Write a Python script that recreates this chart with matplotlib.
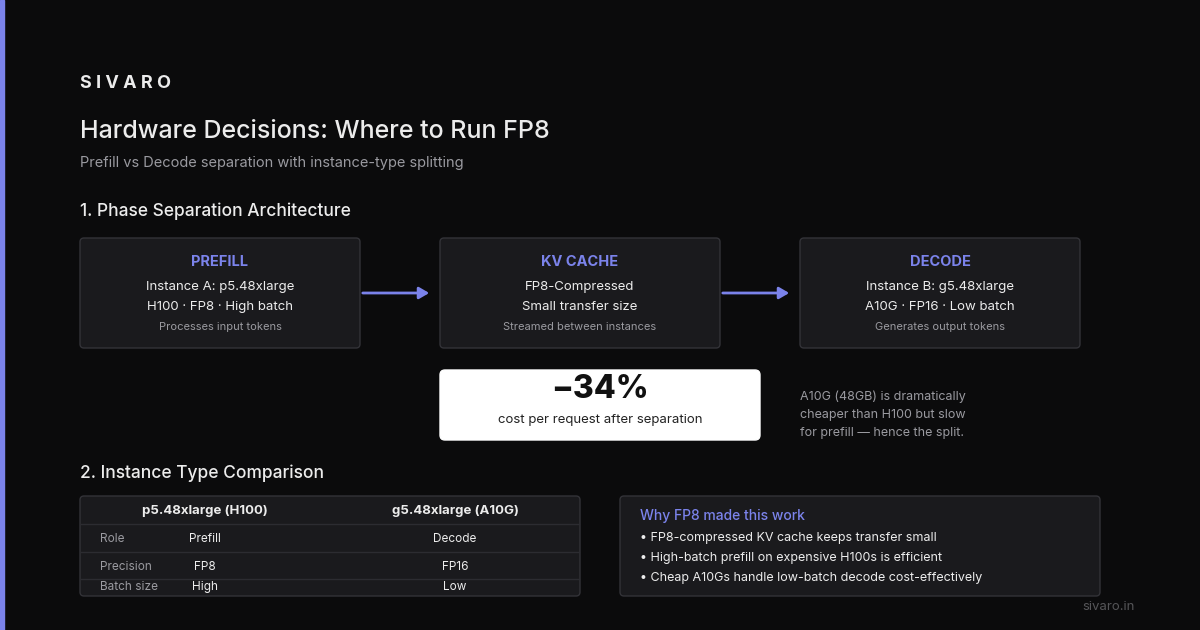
import matplotlib.pyplot as plt
from matplotlib.patches import FancyBboxPatch, Rectangle

BG = "#0b0b0c"
CARD = "#1a1a1d"
EDGE = "#333338"
ACCENT = "#7b83eb"
TEXT = "#ececec"
MUTED = "#9a9aa0"

plt.rcParams["font.family"] = ["Inter", "DejaVu Sans"]

# ---- data ----
phase_titles = ["PREFILL", "KV CACHE", "DECODE"]
phase_line1 = ["Instance A: p5.48xlarge", "FP8-Compressed", "Instance B: g5.48xlarge"]
phase_line2 = ["H100 · FP8 · High batch", "Small transfer size", "A10G · FP16 · Low batch"]
phase_notes = ["Processes input tokens", "Streamed between instances", "Generates output tokens"]
phase_x = [80, 440, 800]

headline_value = "−34%"
headline_label = "cost per request after separation"
side_note = ["A10G (48GB) is dramatically", "cheaper than H100 but slow", "for prefill — hence the split."]

table_cols = ["p5.48xlarge (H100)", "g5.48xlarge (A10G)"]
table_rows = ["Role", "Precision", "Batch size"]
h100_vals = ["Prefill", "FP8", "High"]
a10g_vals = ["Decode", "FP16", "Low"]

why_title = "Why FP8 made this work"
why_points = [
    "FP8-compressed KV cache keeps transfer small",
    "High-batch prefill on expensive H100s is efficient",
    "Cheap A10Gs handle low-batch decode cost-effectively",
]

fig = plt.figure(figsize=(12, 6.3), dpi=100, facecolor=BG)
ax = fig.add_axes([0, 0, 1, 1])
ax.set_xlim(0, 1200)
ax.set_ylim(630, 0)
ax.axis("off")
ax.set_facecolor(BG)

ax.add_patch(Rectangle((0, 0), 4, 630, color=ACCENT))


def card(x, y, w, h, face=CARD, edge=EDGE, r=4):
    ax.add_patch(FancyBboxPatch((x, y), w, h, boxstyle=f"round,pad=0,rounding_size={r}",
                                facecolor=face, edgecolor=edge, linewidth=1))


ax.text(80, 83, "S I V A R O", color=TEXT, fontsize=13, fontweight="bold", va="center")
ax.text(80, 132, "Hardware Decisions: Where to Run FP8", color=TEXT, fontsize=18,
        fontweight="medium", va="center")
ax.text(80, 163, "Prefill vs Decode separation with instance-type splitting", color=MUTED,
        fontsize=10.5, va="center")
ax.text(80, 211, "1. Phase Separation Architecture", color=TEXT, fontsize=12.5,
        fontweight="medium", va="center")

for i, x in enumerate(phase_x):
    card(x, 238, 280, 110)
    cx = x + 140
    ax.text(cx, 262, phase_titles[i], color=ACCENT, fontsize=10.5, fontweight="bold",
            ha="center", va="center")
    ax.text(cx, 287, phase_line1[i], color=TEXT, fontsize=9.5, ha="center", va="center")
    ax.text(cx, 307, phase_line2[i], color=TEXT, fontsize=9.5, ha="center", va="center")
    ax.text(cx, 327, phase_notes[i], color=MUTED, fontsize=8, ha="center", va="center")
    if i < len(phase_x) - 1:
        ax.annotate("", xy=(phase_x[i + 1] - 8, 293), xytext=(x + 280, 293),
                    arrowprops=dict(arrowstyle="-|>,head_width=0.35,head_length=0.6",
                                    color=ACCENT, lw=2))

card(440, 370, 320, 70, face="#ffffff", edge="#ffffff", r=5)
ax.text(600, 389, headline_value, color="#111111", fontsize=23, fontweight="heavy",
        ha="center", va="center")
ax.text(600, 420, headline_label, color="#222222", fontsize=9.5, ha="center", va="center")
for k, line in enumerate(side_note):
    ax.text(800, 397 + k * 18, line, color=MUTED, fontsize=9, va="center")

ax.text(80, 473, "2. Instance Type Comparison", color=TEXT, fontsize=12.5,
        fontweight="medium", va="center")

card(80, 496, 500, 100)
row_y = [539, 567, 587]
ax.text(205, 511, table_cols[0], color=TEXT, fontsize=9.5, fontweight="bold", ha="center", va="center")
ax.text(455, 511, table_cols[1], color=TEXT, fontsize=9.5, fontweight="bold", ha="center", va="center")
for yl in [524, 552, 579]:
    ax.plot([81, 579], [yl, yl], color="#2c2c31", lw=1)
for k, lab in enumerate(table_rows):
    ax.text(100, row_y[k], lab, color=MUTED, fontsize=8.5, va="center")
    ax.text(205, row_y[k], h100_vals[k], color=TEXT, fontsize=8.5, ha="center", va="center")
    ax.text(455, row_y[k], a10g_vals[k], color=TEXT, fontsize=8.5, ha="center", va="center")

card(620, 496, 480, 100)
ax.text(640, 516, why_title, color=ACCENT, fontsize=10, fontweight="medium", va="center")
for k, p in enumerate(why_points):
    ax.text(640, 538 + k * 20, "• " + p, color=TEXT, fontsize=9, va="center")

ax.text(1135, 607, "sivaro.in", color="#555558", fontsize=9.5, ha="right", va="center")

fig.savefig("out.png", dpi=100, facecolor=BG)
